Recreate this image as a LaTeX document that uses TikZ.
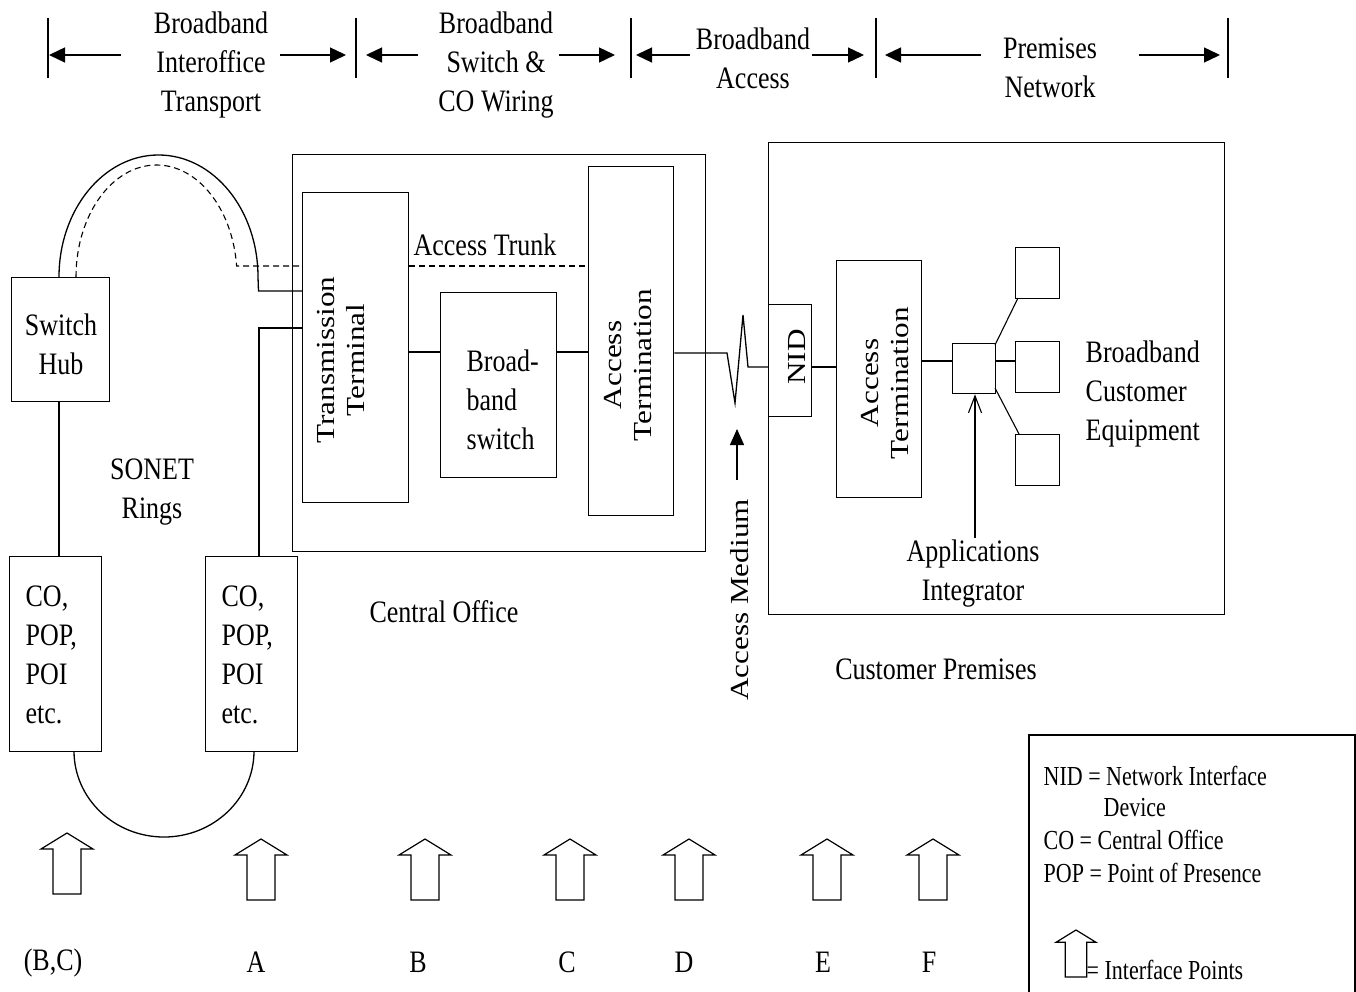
\documentclass[tikz,border=0pt]{standalone}
\usepackage{fontspec}
\setmainfont{Liberation Serif}
\usetikzlibrary{arrows.meta}
\begin{document}
\begin{tikzpicture}[x=1pt,y=-1pt,line width=1.3pt,
  box/.style={draw,line width=1.3pt,inner sep=0pt,anchor=north west},
  txt/.style={font=\fontsize{26}{32.5}\selectfont,inner sep=0pt,align=center,yscale=1.2},
  ltxt/.style={txt,align=left},
  vtxt/.style={font=\fontsize{26}{30}\selectfont,inner sep=0pt,align=center,rotate=90,xscale=1.2},
  lgd/.style={font=\fontsize{22}{25.6}\selectfont,inner sep=0pt,align=left,anchor=west,yscale=1.25},
  hdr/.style={-{Triangle[length=16pt,width=15pt]}},
  ifa/.pic={\draw[line width=1.2pt] (-14,61) -- (-14,16) -- (-26,16) -- (0,0) -- (26,16) -- (14,16) -- (14,61) -- cycle;}
]
\useasboundingbox[fill=white] (0,0) rectangle (1356,992);

% ---------- header ----------
\foreach \bx in {48,356,631,876,1228} \draw (\bx,18) -- (\bx,78);
\draw[hdr] (121,55) -- (49,55);
\draw[hdr] (280,55) -- (346,55);
\draw[hdr] (418,55) -- (366,55);
\draw[hdr] (559,55) -- (615,55);
\draw[hdr] (690,55) -- (636,55);
\draw[hdr] (812,55) -- (864,55);
\draw[hdr] (981,55) -- (885,55);
\draw[hdr] (1139,55) -- (1220,55);
\node[txt] (h1) at (211,65) {Broadband\\Interoffice\\Transport};
\node[txt] (h2) at (496,65) {Broadband\\Switch \&\\CO Wiring};
\node[txt] (h3) at (753,58) {Broadband\\Access};
\node[txt] (h4) at (1050,68) {Premises\\Network};

% ---------- boxes ----------
\node[box,minimum width=98,minimum height=124] (hub) at (11,277) {};
\node[box,minimum width=92,minimum height=195] (co1) at (9,556) {};
\node[box,minimum width=92,minimum height=195] (co2) at (205,556) {};
\node[box,minimum width=413,minimum height=397] (cob) at (292,154) {};
\node[box,minimum width=106,minimum height=310] (tt) at (302,192) {};
\node[box,minimum width=116,minimum height=185] (bsw) at (440,292) {};
\node[box,minimum width=85,minimum height=349] (at1) at (588,166) {};
\node[box,minimum width=456,minimum height=472] (cp) at (768,142) {};
\node[box,minimum width=43,minimum height=112] (nid) at (768,304) {};
\node[box,minimum width=85,minimum height=237] (at2) at (836,260) {};
\node[box,minimum width=43,minimum height=50] (ai) at (952,343) {};
\node[box,minimum width=44,minimum height=51] (eq1) at (1015,247) {};
\node[box,minimum width=44,minimum height=51] (eq2) at (1015,341) {};
\node[box,minimum width=44,minimum height=51] (eq3) at (1015,434) {};

% ---------- box texts ----------
\node[txt] (thub) at (61,344) {Switch\\Hub};
\node[ltxt,anchor=west] (tco1) at (25,655) {CO,\\POP,\\POI\\etc.};
\node[ltxt,anchor=west] (tco2) at (221,655) {CO,\\POP,\\POI\\etc.};
\node[txt] (sonet) at (152,492) {SONET\\Rings};
\node[vtxt] (ttt) at (341,360) {Transmission\\Terminal};
\node[ltxt,anchor=west] (tbsw) at (466,400) {Broad-\\band\\switch};
\node[vtxt] (tat1) at (628,365) {Access\\Termination};
\node[txt] (trunk) at (485,245) {Access Trunk};
\node[txt] (tcob) at (444,612) {Central Office};
\node[vtxt] (tnid) at (797,357) {NID};
\node[vtxt] (tat2) at (885,383) {Access\\Termination};
\node[ltxt,anchor=west] (tbce) at (1085,394) {Broadband\\Customer\\Equipment};
\node[txt] (tai) at (973,574) {Applications\\Integrator};
\node[txt] (tcp) at (936,669) {Customer Premises};
\node[vtxt] (tam) at (740,600) {Access Medium};

% ---------- SONET rings ----------
\draw (59,277) arc[start angle=180,end angle=0,x radius=99.5pt,y radius=122pt]
      -- (258.5,291) -- (tt.west |- 0,291);
\draw[dash pattern=on 6pt off 4pt,line width=1.1pt] (76,277)
      arc[start angle=180,end angle=5.6,x radius=80.5pt,y radius=112pt]
      -- (237,266) -- (tt.west |- 0,266);
\draw[dash pattern=on 6pt off 4pt,line width=1.1pt] (tt.east |- 0,266) -- (at1.west |- 0,266);
\draw (74,751) arc[start angle=180,end angle=360,x radius=90pt,y radius=86pt];
\draw (hub.south -| 59,0) -- (co1.north -| 59,0);
\draw (co2.north -| 259,0) -- (259,328) -- (tt.west |- 0,328);

% ---------- CO chain ----------
\draw (tt.east |- 0,352) -- (bsw.west |- 0,352);
\draw (bsw.east |- 0,352) -- (at1.west |- 0,352);
\draw (at1.east |- 0,353) -- (727,353) -- (735,403) -- (743,315) -- (748,367) -- (nid.west |- 0,367);
\draw (nid.east |- 0,367) -- (at2.west |- 0,367);
\draw (at2.east |- 0,361) -- (ai.west |- 0,361);
\draw (ai.east |- 0,361) -- (eq2.west |- 0,361);
\draw[line width=1.1pt] (995,345) -- (1018,298);
\draw[line width=1.1pt] (995,388) -- (1019,434);
\draw[-{Straight Barb[length=17pt,width=13pt]},line width=1.1pt] (975,538) -- (ai.south -| 975,0);
\draw[-{Triangle[length=16pt,width=14pt]}] (737,480) -- (737,429);

% ---------- interface points ----------
\pic at (67,833) {ifa};
\pic at (261,839) {ifa};
\pic at (425,839) {ifa};
\pic at (570,839) {ifa};
\pic at (689,839) {ifa};
\pic at (827,839) {ifa};
\pic at (933,839) {ifa};
\node[txt] (lbc) at (53,963) {(B,C)};
\node[txt] (la) at (256,962) {A};
\node[txt] (lb) at (418,962) {B};
\node[txt] (lc) at (567,962) {C};
\node[txt] (ld) at (684,962) {D};
\node[txt] (le) at (823,962) {E};
\node[txt] (lf) at (929,962) {F};

% ---------- legend ----------
\draw (1029,1000) -- (1029,735) -- (1355,735) -- (1355,1000);
\node[lgd] (l1) at (1043,776) {NID = Network Interface};
\node[lgd] (l2) at (1103,808) {Device};
\node[lgd] (l3) at (1043,840) {CO = Central Office};
\node[lgd] (l4) at (1043,873) {POP = Point of Presence};
\pic[scale=0.77] at (1076,930) {ifa};
\node[lgd] (l5) at (1086,970) {= Interface Points};
\end{tikzpicture}
\end{document}
